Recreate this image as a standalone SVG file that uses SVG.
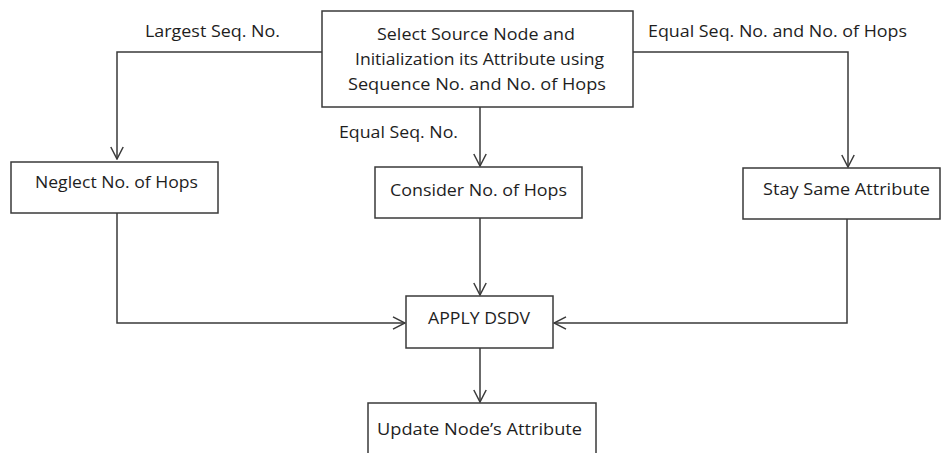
<svg xmlns="http://www.w3.org/2000/svg" width="941" height="453" viewBox="0 0 941 453">
<style>
.box{fill:#ffffff;stroke:#3a3a3a;stroke-width:1.5}
.t{font-family:"Open Sans","Liberation Sans",sans-serif;font-size:17px;fill:#1e1e1e}
.c{fill:none;stroke:#3a3a3a;stroke-width:1.5}
</style>
<defs>
<marker id="arr" viewBox="0 0 14 14" refX="13" refY="7" markerWidth="14" markerHeight="14" markerUnits="userSpaceOnUse" orient="auto">
<path d="M1,0.8 L13,7 L1,13.2" fill="none" stroke="#3a3a3a" stroke-width="1.5"/>
</marker>
</defs>
<rect width="941" height="453" fill="#ffffff"/>
<g id="connectors">
<path class="c" d="M322,52 H117 V159" marker-end="url(#arr)"/>
<path class="c" d="M480,107 V166" marker-end="url(#arr)"/>
<path class="c" d="M633,52 H848 V167" marker-end="url(#arr)"/>
<path class="c" d="M117,213 V323 H405" marker-end="url(#arr)"/>
<path class="c" d="M480,218 V295" marker-end="url(#arr)"/>
<path class="c" d="M847,219 V323 H554" marker-end="url(#arr)"/>
<path class="c" d="M480,348 V402" marker-end="url(#arr)"/>
<text class="t" x="145" y="37" textLength="135" lengthAdjust="spacingAndGlyphs">Largest Seq. No.</text>
<text class="t" x="648" y="37" textLength="259" lengthAdjust="spacingAndGlyphs">Equal Seq. No. and No. of Hops</text>
<text class="t" x="339" y="138" textLength="119" lengthAdjust="spacingAndGlyphs">Equal Seq. No.</text>
</g>
<g id="source">
<rect class="box" x="322" y="11" width="311" height="96"/>
<text class="t" x="377" y="40" textLength="198" lengthAdjust="spacingAndGlyphs">Select Source Node and</text>
<text class="t" x="355" y="65" textLength="249" lengthAdjust="spacingAndGlyphs">Initialization its Attribute using</text>
<text class="t" x="348" y="90" textLength="258" lengthAdjust="spacingAndGlyphs">Sequence No. and No. of Hops</text>
</g>
<g id="neglect">
<rect class="box" x="11" y="162" width="207" height="51"/>
<text class="t" x="35" y="188" textLength="163" lengthAdjust="spacingAndGlyphs">Neglect No. of Hops</text>
</g>
<g id="consider">
<rect class="box" x="375" y="167" width="207" height="51"/>
<text class="t" x="390" y="196" textLength="177" lengthAdjust="spacingAndGlyphs">Consider No. of Hops</text>
</g>
<g id="stay">
<rect class="box" x="743" y="168" width="197" height="51"/>
<text class="t" x="763" y="195" textLength="167" lengthAdjust="spacingAndGlyphs">Stay Same Attribute</text>
</g>
<g id="dsdv">
<rect class="box" x="406" y="296" width="147" height="52"/>
<text class="t" x="428" y="324" textLength="102" lengthAdjust="spacingAndGlyphs">APPLY DSDV</text>
</g>
<g id="update">
<rect class="box" x="368" y="403" width="228" height="60"/>
<text class="t" x="377" y="435" textLength="205" lengthAdjust="spacingAndGlyphs">Update Node’s Attribute</text>
</g>
</svg>
